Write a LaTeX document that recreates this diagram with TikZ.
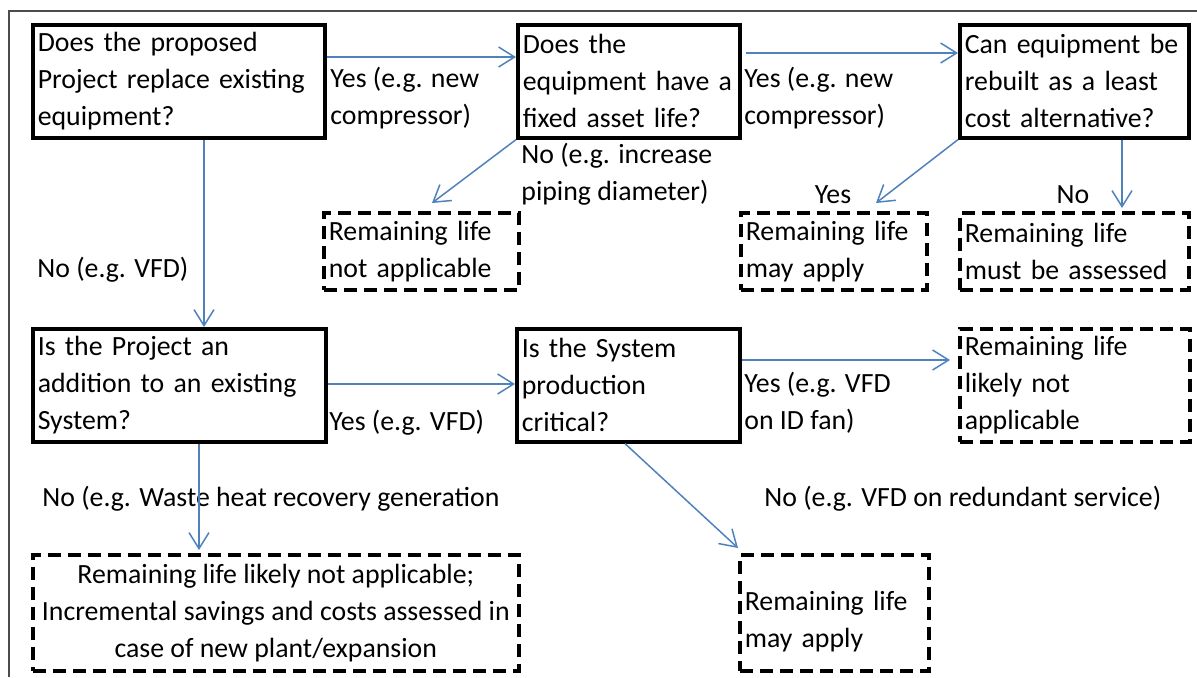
\documentclass[tikz,border=0pt]{standalone}
\usepackage{fontspec}
\setmainfont{Carlito}
\usetikzlibrary{arrows.meta}
\definecolor{flowblue}{RGB}{79,129,189}

\begin{document}
\begin{tikzpicture}
          [x=0.5pt, y=-0.5pt, >={Straight Barb[length=8pt,width=10pt]},
           font=\fontsize{13.9pt}{18.5pt}\selectfont,
           ask/.style = {draw, line width=1.8pt, anchor=north west, align=left, inner xsep=2.5pt, inner ysep=0pt},
           outcome/.style = {ask, dash pattern=on 6.5pt off 3.5pt},
           lbl/.style = {anchor=west, align=left, inner sep=0pt},
           flow/.style = {->, draw=flowblue, line width=0.75pt}]
          \useasboundingbox (0,0) rectangle (1197,677);
          \draw[gray!60!black, line width=0.75pt] (9,677) -- (9,11) -- (1197,11);

          \node[ask, text width=141pt, minimum height=56.5pt] (A) at (31,23) {Does the proposed\\Project replace existing\\equipment?};
          \node[ask, text width=106pt, minimum height=56.5pt] (B) at (516,23) {Does the\\equipment have a\\fixed asset life?};
          \node[ask, text width=109.5pt, minimum height=56.5pt] (C) at (958,23) {Can equipment be\\rebuilt as a least\\cost alternative?};
          \node[outcome, text width=92.5pt, minimum height=38.5pt] (D) at (322,211) {Remaining life\\not applicable};
          \node[outcome, text width=88pt, minimum height=38.5pt] (E) at (739,211) {Remaining life\\may apply};
          \node[outcome, text width=109.5pt, minimum height=38.5pt] (F) at (958,211) {Remaining life\\must be assessed};
          \node[ask, text width=141.5pt, minimum height=56.5pt] (G) at (31,327) {Is the Project an\\addition to an existing\\System?};
          \node[ask, text width=106.5pt, minimum height=56.5pt] (H) at (515,327) {Is the System\\production\\critical?};
          \node[outcome, text width=110pt, minimum height=56.5pt] (I) at (958,327) {Remaining life\\likely not\\applicable};
          \node[outcome, align=center, inner xsep=1pt, minimum width=243pt, minimum height=58pt] (J) at (31,553) {Remaining life likely not applicable;\\Incremental savings and costs assessed in\\case of new plant/expansion};
          \node[outcome, text width=89.5pt, minimum height=58pt] (K) at (738,553) {\mbox{}\\Remaining life\\may apply};

          \node[lbl] (yes1) at (330,98.5) {Yes (e.g. new\\compressor)};
          \node[lbl] (yes2) at (744,98.5) {Yes (e.g. new\\compressor)};
          \node[lbl] (no1) at (521,174.5) {No (e.g. increase\\piping diameter)};
          \node[lbl] (no2) at (37,270) {No (e.g. VFD)};
          \node[inner sep=0pt] (yes3) at (833,195) {Yes};
          \node[inner sep=0pt] (no3) at (1073,195) {No};
          \node[lbl] (yes4) at (329,423) {Yes (e.g. VFD)};
          \node[lbl] (yes5) at (744,402.5) {Yes (e.g. VFD\\on ID fan)};
          \node[lbl] (no4) at (42,499) {No (e.g. Waste heat recovery generation};
          \node[lbl] (no5) at (764,499) {No (e.g. VFD on redundant service)};

          \draw[flow] ([yshift=-17pt]A.north east) -- ([yshift=-17pt]B.north west);
          \draw[flow] ([xshift=2pt,yshift=-15pt]B.north east) -- ([yshift=-15pt]C.north west);
          \draw[flow] (B.south west) -- ([xshift=55pt,yshift=4pt]D.north west);
          \draw[flow] (C.south west) -- ([xshift=68.5pt,yshift=4pt]E.north west);
          \draw[flow] ([xshift=82pt]C.south west) -- ([xshift=82pt,yshift=1.5pt]F.north west);
          \draw[flow] ([xshift=86.5pt]A.south west) -- ([xshift=86.5pt]G.north west);
          \draw[flow] ([yshift=-28.5pt]G.north east) -- ([yshift=-28.5pt]H.north west);
          \draw[flow] ([yshift=-16.5pt]H.north east) -- ([xshift=-4pt,yshift=-16.5pt]I.north west);
          \draw[flow] ([xshift=84pt]G.south west) -- ([xshift=84pt,yshift=1.5pt]J.north west);
          \draw[flow] ([xshift=55pt]H.south west) -- ([yshift=2.5pt]K.north west);
\end{tikzpicture}
\end{document}
